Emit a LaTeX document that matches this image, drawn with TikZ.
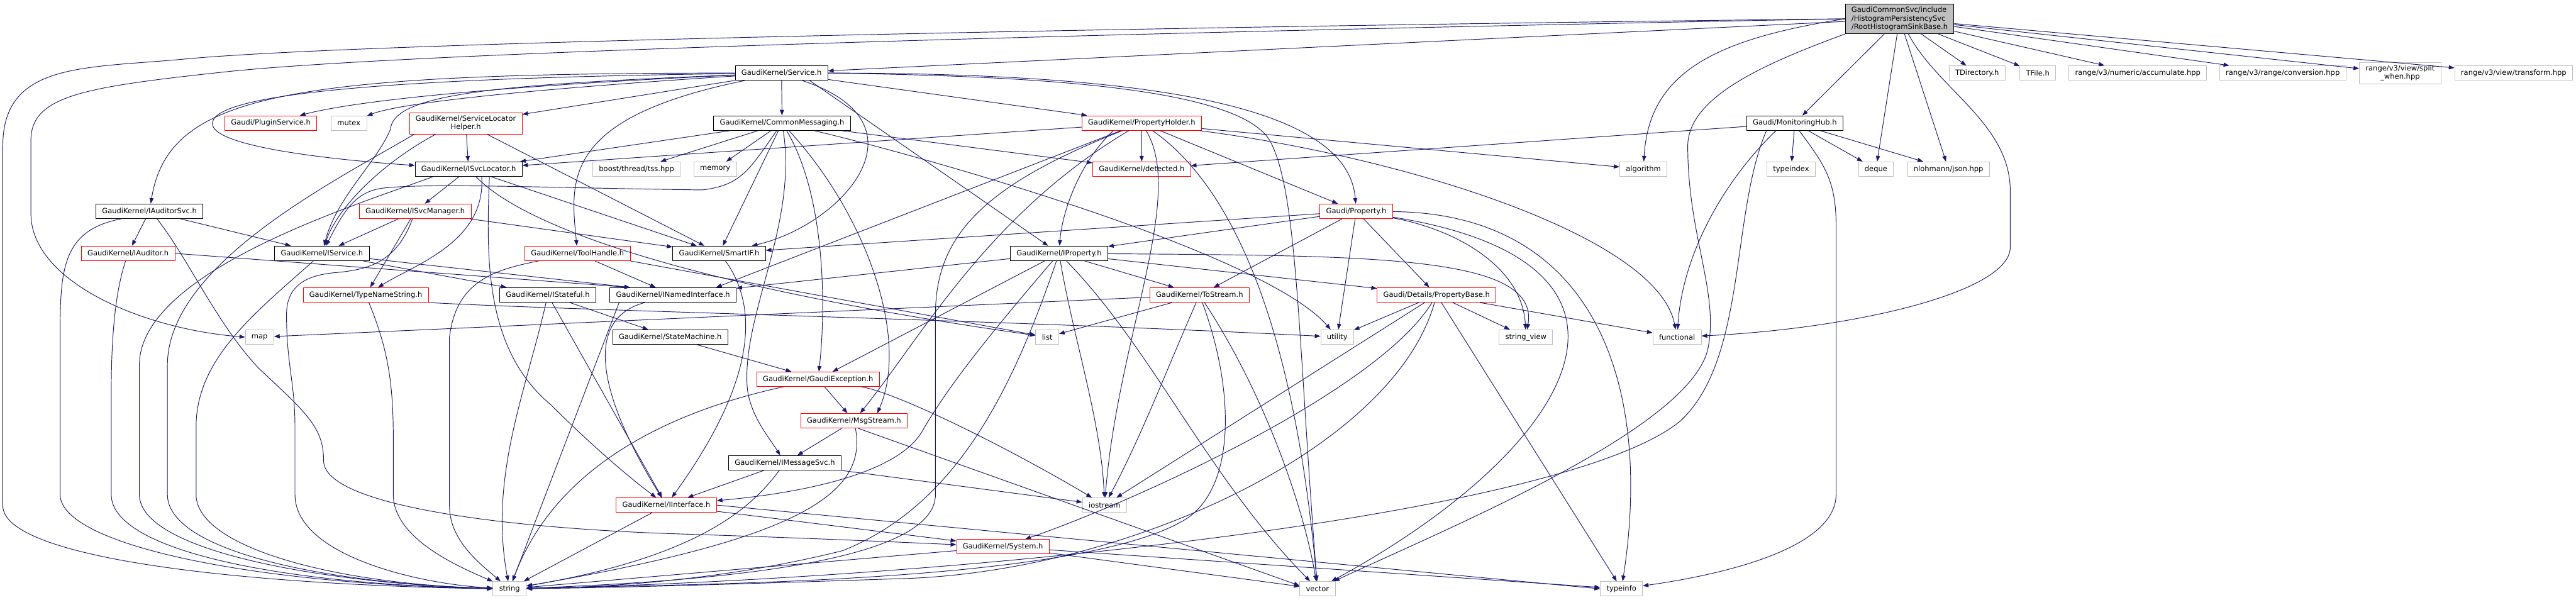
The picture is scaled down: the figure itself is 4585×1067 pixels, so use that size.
\documentclass[tikz,border=0pt]{standalone}
\usepackage{fontspec}
\setmainfont{DejaVu Sans}
\usetikzlibrary{arrows.meta}

\definecolor{edgeblue}{HTML}{191970}
\definecolor{sysgray}{HTML}{BFBFBF}
\definecolor{cutred}{HTML}{FF0000}
\definecolor{rootgray}{HTML}{BFBFBF}

\begin{document}
\begin{tikzpicture}[x=0.03cm, y=-0.03cm,
    every node/.style={draw, rectangle, fill=white, align=center, line width=0.85pt, inner xsep=0.33cm, inner ysep=4.5pt, minimum height=0.78cm, font=\fontsize{11}{12.8}\selectfont},
    known/.style={draw=black},
    cut/.style={draw=cutred},
    sys/.style={draw=sysgray},
    dep/.style={draw=edgeblue, line width=0.9pt, -{Triangle[length=0.3cm, width=0.22cm]}}]

    \path[fill=white] (0,0) rectangle (4585,1067);

    % Nodes
    \node (root) [known, fill=rootgray, align=left] at (3381,33.5) {GaudiCommonSvc/include\\/HistogramPersistencySvc\\/RootHistogramSinkBase.h};
    \node (service) [known] at (1391,130) {GaudiKernel/Service.h};
    \node (tdir) [sys] at (3519,130) {TDirectory.h};
    \node (tfile) [sys] at (3627,130) {TFile.h};
    \node (accum) [sys] at (3805,130) {range/v3/numeric/accumulate.hpp};
    \node (conv) [sys] at (4063,130) {range/v3/range/conversion.hpp};
    \node (split) [sys] at (4272,130) {range/v3/view/split\\\_when.hpp};
    \node (transform) [sys] at (4474,130) {range/v3/view/transform.hpp};

    \node (plugin) [cut] at (482,219) {Gaudi/PluginService.h};
    \node (mutex) [sys] at (621,219) {mutex};
    \node (slhelper) [cut] at (829,219.5) {GaudiKernel/ServiceLocator\\Helper.h};
    \node (commsg) [known] at (1392,219) {GaudiKernel/CommonMessaging.h};
    \node (propholder) [cut] at (2032,219) {GaudiKernel/PropertyHolder.h};
    \node (monhub) [known] at (3194.5,219) {Gaudi/MonitoringHub.h};

    \node (svcloc) [known] at (834,301) {GaudiKernel/ISvcLocator.h};
    \node (tss) [sys] at (1133,301) {boost/thread/tss.hpp};
    \node (memory) [sys] at (1273,301) {memory};
    \node (detected) [cut] at (2032,301) {GaudiKernel/detected.h};
    \node (algorithm) [sys] at (2925,301) {algorithm};
    \node (typeindex) [sys] at (3188,301) {typeindex};
    \node (deque) [sys] at (3339,301) {deque};
    \node (json) [sys] at (3468,301) {nlohmann/json.hpp};

    \node (iauditorsvc) [known] at (266,376) {GaudiKernel/IAuditorSvc.h};
    \node (isvcmgr) [cut] at (739,376) {GaudiKernel/ISvcManager.h};
    \node (property) [cut] at (2414,376) {Gaudi/Property.h};

    \node (iauditor) [cut] at (228,451) {GaudiKernel/IAuditor.h};
    \node (iservice) [known] at (573,451) {GaudiKernel/IService.h};
    \node (toolhandle) [cut] at (1028,451) {GaudiKernel/ToolHandle.h};
    \node (smartif) [known] at (1280,451) {GaudiKernel/SmartIF.h};
    \node (iproperty) [known] at (1885,451) {GaudiKernel/IProperty.h};

    \node (typename) [cut] at (651,525) {GaudiKernel/TypeNameString.h};
    \node (istateful) [known] at (975,525) {GaudiKernel/IStateful.h};
    \node (inamed) [known] at (1198,525) {GaudiKernel/INamedInterface.h};
    \node (tostream) [cut] at (2135,525) {GaudiKernel/ToStream.h};
    \node (propbase) [cut] at (2557,525) {Gaudi/Details/PropertyBase.h};

    \node (map) [sys] at (462,600) {map};
    \node (statemachine) [known] at (1193,600) {GaudiKernel/StateMachine.h};
    \node (list) [sys] at (1864,600) {list};
    \node (utility) [sys] at (2380,600) {utility};
    \node (strview) [sys] at (2716,600) {string\_view};
    \node (functional) [sys] at (2985,600) {functional};

    \node (gexcept) [cut] at (1456,675) {GaudiKernel/GaudiException.h};
    \node (msgstream) [cut] at (1520,749) {GaudiKernel/MsgStream.h};
    \node (imsgsvc) [known] at (1397,824) {GaudiKernel/IMessageSvc.h};
    \node (iinterface) [cut] at (1186,899) {GaudiKernel/IInterface.h};
    \node (iostream) [sys] at (1966,899) {iostream};
    \node (system) [cut] at (1785,973) {GaudiKernel/System.h};
    \node (string) [sys] at (907,1048) {string};
    \node (vector) [sys] at (2345,1048) {vector};
    \node (typeinfo) [sys] at (2886,1048) {typeinfo};

    % Connectors
    % root header
    \draw [dep] (root.west) .. controls (2500,42) and (700,70) .. (330,105) .. controls (150,122) and (5,110) .. (5,260) -- (5,900) .. controls (5,990) and (400,1040) .. (string.west);
    \draw [dep] (root.west) .. controls (2500,48) and (800,85) .. (400,128) .. controls (150,155) and (55,170) .. (55,250) -- (55,380) .. controls (55,500) and (250,585) .. (map.west);
    \draw [dep] (root) -- (service);
    \draw [dep] (root.west) .. controls (3050,70) and (2935,130) .. (algorithm);
    \draw [dep] (root) -- (monhub);
    \draw [dep] (root) -- (deque);
    \draw [dep] (root) -- (json);
    \draw [dep] (root.south west) .. controls (3150,110) and (3004,170) .. (3004,260) .. controls (3004,420) and (3060,520) .. (3040,620) .. controls (3010,760) and (2600,930) .. (vector);
    \draw [dep] (root.-60) .. controls (3450,160) and (3578,220) .. (3578,340) -- (3578,440) .. controls (3578,520) and (3300,585) .. (functional);
    \draw [dep] (root) -- (tdir);
    \draw [dep] (root) -- (tfile);
    \draw [dep] (root) -- (accum);
    \draw [dep] (root) -- (conv);
    \draw [dep] (root) -- (split);
    \draw [dep] (root) -- (transform);

    % MonitoringHub.h
    \draw [dep] (monhub) -- (detected);
    \draw [dep] (monhub) -- (typeindex);
    \draw [dep] (monhub) -- (deque);
    \draw [dep] (monhub) -- (json);
    \draw [dep] (monhub.-60) .. controls (3245,290) and (3268,320) .. (3268,400) -- (3268,880) .. controls (3268,980) and (3050,1025) .. (typeinfo);
    \draw [dep] (monhub.-158) .. controls (3070,320) and (2995,450) .. (functional);
    \draw [dep] (monhub.-165) .. controls (3080,380) and (3110,640) .. (2990,750) .. controls (2780,920) and (1700,1030) .. (string);

    % Service.h
    \draw [dep] (service) .. controls (950,150) and (650,175) .. (plugin);
    \draw [dep] (service) .. controls (1000,155) and (720,180) .. (mutex);
    \draw [dep] (service) -- (slhelper);
    \draw [dep] (service) .. controls (600,140) and (378,175) .. (378,220) .. controls (378,262) and (600,285) .. (svcloc);
    \draw [dep] (service) .. controls (500,130) and (300,170) .. (iauditorsvc);
    \draw [dep] (service) .. controls (900,150) and (700,165) .. (695,230) .. controls (670,290) and (600,350) .. (iservice);
    \draw [dep] (service) -- (commsg);
    \draw [dep] (service) -- (propholder);
    \draw [dep] (service) .. controls (2100,130) and (2400,200) .. (property);
    \draw [dep] (service.-15) -- (iproperty);
    \draw [dep] (service.-20) .. controls (1660,220) and (1500,400) .. (smartif);
    \draw [dep] (service) .. controls (1000,210) and (1015,320) .. (toolhandle);
    \draw [dep] (service.east) .. controls (1800,135) and (2200,150) .. (2260,250) .. controls (2310,340) and (2310,600) .. (vector);

    % CommonMessaging.h
    \draw [dep] (commsg) -- (svcloc);
    \draw [dep] (commsg) -- (tss);
    \draw [dep] (commsg) -- (memory);
    \draw [dep] (commsg) .. controls (1335,300) and (1320,330) .. (1250,338) .. controls (1000,335) and (760,325) .. (680,335) .. controls (630,342) and (610,380) .. (iservice);
    \draw [dep] (commsg) -- (detected);
    \draw [dep] (commsg) -- (smartif);
    \draw [dep] (commsg) .. controls (1540,380) and (1620,600) .. (msgstream.18);
    \draw [dep] (commsg) .. controls (1470,350) and (1470,550) .. (gexcept);
    \draw [dep] (commsg) .. controls (1420,400) and (1320,560) .. (1330,690) .. controls (1335,740) and (1370,780) .. (imsgsvc);
    \draw [dep] (commsg) .. controls (1650,280) and (2250,450) .. (utility);

    % ServiceLocatorHelper.h
    \draw [dep] (slhelper) -- (svcloc);
    \draw [dep] (slhelper) -- (smartif);
    \draw [dep] (slhelper.-160) .. controls (680,290) and (600,370) .. (iservice);
    \draw [dep] (slhelper.-168) .. controls (600,320) and (298,470) .. (298,650) -- (298,880) .. controls (298,985) and (600,1040) .. (string);

    % ISvcLocator.h
    \draw [dep] (svcloc) -- (isvcmgr);
    \draw [dep] (svcloc.-20) .. controls (866,450) and (860,620) .. (980,720) .. controls (1050,790) and (1120,850) .. (iinterface);
    \draw [dep] (svcloc.-30) .. controls (865,430) and (740,470) .. (typename);
    \draw [dep] (svcloc) -- (smartif);
    \draw [dep] (svcloc) .. controls (950,420) and (1300,520) .. (list);
    \draw [dep] (svcloc.-168) .. controls (650,360) and (248,480) .. (248,650) -- (248,880) .. controls (248,985) and (600,1040) .. (string);

    % ISvcManager.h
    \draw [dep] (isvcmgr) -- (iservice);
    \draw [dep] (isvcmgr) -- (typename);
    \draw [dep] (isvcmgr) -- (smartif);
    \draw [dep] (isvcmgr) .. controls (705,470) and (650,480) .. (600,485) .. controls (530,490) and (510,520) .. (510,560) .. controls (510,650) and (525,680) .. (525,760) -- (525,880) .. controls (525,990) and (750,1040) .. (string);

    % IAuditorSvc.h and IAuditor.h
    \draw [dep] (iauditorsvc) -- (iservice);
    \draw [dep] (iauditorsvc) -- (iauditor);
    \draw [dep] (iauditorsvc.-165) .. controls (110,410) and (107,480) .. (107,600) -- (107,880) .. controls (107,970) and (450,1040) .. (string);
    \draw [dep] (iauditorsvc.-45) .. controls (335,460) and (385,575) .. (460,655) .. controls (545,735) and (576,760) .. (576,820) .. controls (576,900) and (900,940) .. (1200,950) .. controls (1450,958) and (1600,965) .. (system);
    \draw [dep] (iauditor.east) -- (inamed.170);
    \draw [dep] (iauditor) .. controls (205,520) and (198,600) .. (198,700) -- (198,880) .. controls (198,980) and (500,1040) .. (string);

    % IService.h, ToolHandle.h, TypeNameString.h
    \draw [dep] (iservice) -- (istateful);
    \draw [dep] (iservice) -- (inamed.170);
    \draw [dep] (iservice) .. controls (450,560) and (349,640) .. (349,760) -- (349,880) .. controls (349,975) and (600,1040) .. (string);
    \draw [dep] (toolhandle.-169) .. controls (880,480) and (812,500) .. (800,600) -- (800,900) .. controls (800,960) and (850,1000) .. (string);
    \draw [dep] (toolhandle) -- (inamed);
    \draw [dep] (toolhandle.south east) -- (list);
    \draw [dep] (typename) .. controls (690,620) and (700,680) .. (700,780) -- (700,880) .. controls (700,960) and (820,1010) .. (string);
    \draw [dep] (typename.south east) .. controls (1000,552) and (1800,570) .. (utility);

    % IStateful.h, INamedInterface.h, SmartIF.h, StateMachine.h
    \draw [dep] (istateful) -- (iinterface);
    \draw [dep] (istateful) -- (statemachine);
    \draw [dep] (istateful) .. controls (935,700) and (870,850) .. (string);
    \draw [dep] (inamed.-165) .. controls (1030,570) and (1075,720) .. (iinterface);
    \draw [dep] (inamed.-172) -- (string);
    \draw [dep] (smartif.-50) .. controls (1360,560) and (1330,700) .. (iinterface);
    \draw [dep] (statemachine) -- (gexcept);

    % GaudiException.h, MsgStream.h, IMessageSvc.h
    \draw [dep] (gexcept) -- (msgstream);
    \draw [dep] (gexcept) .. controls (1600,700) and (1800,800) .. (iostream);
    \draw [dep] (gexcept) .. controls (1250,720) and (1000,800) .. (string);
    \draw [dep] (msgstream) -- (imsgsvc);
    \draw [dep] (msgstream.-60) -- (vector.170);
    \draw [dep] (msgstream) .. controls (1545,880) and (1420,960) .. (string);
    \draw [dep] (imsgsvc) -- (iinterface);
    \draw [dep] (imsgsvc) -- (iostream);
    \draw [dep] (imsgsvc) .. controls (1340,900) and (1250,990) .. (string);

    % IInterface.h, System.h
    \draw [dep] (iinterface) -- (system);
    \draw [dep] (iinterface.east) -- (typeinfo.west);
    \draw [dep] (iinterface) -- (string);
    \draw [dep] (system) -- (string);
    \draw [dep] (system) -- (vector);
    \draw [dep] (system) -- (typeinfo);

    % PropertyHolder.h
    \draw [dep] (propholder) -- (detected);
    \draw [dep] (propholder) -- (svcloc);
    \draw [dep] (propholder.-165) .. controls (1920,290) and (1890,380) .. (iproperty);
    \draw [dep] (propholder) -- (property);
    \draw [dep] (propholder) -- (algorithm);
    \draw [dep] (propholder.-160) -- (inamed.10);
    \draw [dep] (propholder) .. controls (1760,380) and (1640,600) .. (msgstream);
    \draw [dep] (propholder) .. controls (1750,330) and (1665,420) .. (1665,560) -- (1665,880) .. controls (1665,980) and (1400,1030) .. (string);
    \draw [dep] (propholder) .. controls (2110,350) and (1990,600) .. (iostream);
    \draw [dep] (propholder) .. controls (2220,350) and (2310,650) .. (vector);
    \draw [dep] (propholder) .. controls (2500,280) and (2950,420) .. (functional);

    % Gaudi/Property.h
    \draw [dep] (property) -- (smartif);
    \draw [dep] (property) -- (iproperty);
    \draw [dep] (property) -- (tostream);
    \draw [dep] (property) -- (utility);
    \draw [dep] (property) -- (propbase);
    \draw [dep] (property) .. controls (2850,380) and (2940,700) .. (typeinfo);
    \draw [dep] (property) .. controls (2600,410) and (2710,480) .. (strview);
    \draw [dep] (property) .. controls (3000,470) and (2800,800) .. (vector);

    % IProperty.h
    \draw [dep] (iproperty) -- (inamed);
    \draw [dep] (iproperty) -- (gexcept);
    \draw [dep] (iproperty) -- (tostream);
    \draw [dep] (iproperty) -- (propbase);
    \draw [dep] (iproperty) .. controls (2450,455) and (2740,455) .. (strview);
    \draw [dep] (iproperty) .. controls (1740,620) and (1680,700) .. (1640,770) .. controls (1590,850) and (1400,880) .. (iinterface);
    \draw [dep] (iproperty) .. controls (1800,700) and (1700,900) .. (1500,980) .. controls (1300,1030) and (1100,1045) .. (string);
    \draw [dep] (iproperty) .. controls (1910,600) and (1960,750) .. (iostream);
    \draw [dep] (iproperty) .. controls (2050,620) and (2150,850) .. (vector);

    % ToStream.h
    \draw [dep] (tostream) -- (list);
    \draw [dep] (tostream) -- (map);
    \draw [dep] (tostream) .. controls (2080,650) and (2030,780) .. (iostream);
    \draw [dep] (tostream) .. controls (2200,700) and (2200,880) .. (2100,930) .. controls (1900,1040) and (1200,1040) .. (string);
    \draw [dep] (tostream) .. controls (2250,700) and (2320,900) .. (vector);

    % Details/PropertyBase.h
    \draw [dep] (propbase) -- (utility);
    \draw [dep] (propbase) -- (strview);
    \draw [dep] (propbase) -- (functional);
    \draw [dep] (propbase) -- (typeinfo);
    \draw [dep] (propbase) -- (iostream);
    \draw [dep] (propbase) .. controls (2450,700) and (2000,900) .. (system);
    \draw [dep] (propbase) .. controls (2480,800) and (2000,1020) .. (1600,1030) .. controls (1300,1040) and (1100,1046) .. (string);
\end{tikzpicture}
\end{document}
